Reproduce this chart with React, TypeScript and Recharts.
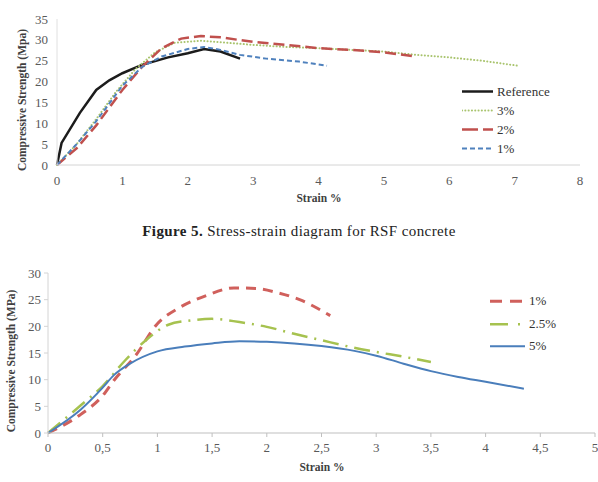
import { LineChart, Line, XAxis, YAxis, Legend } from 'recharts';

type Pt = { x: number; y: number };

const serif = '"Liberation Serif", "DejaVu Serif", Times, serif';

// ---- Figure 5: RSF concrete (strain %, MPa) ----
const rsfReference: Pt[] = [
  { x: 0, y: 0 }, { x: 0.07, y: 5.3 }, { x: 0.35, y: 12.5 }, { x: 0.6, y: 18 },
  { x: 0.8, y: 20.3 }, { x: 1, y: 22 }, { x: 1.3, y: 24 }, { x: 1.7, y: 25.8 },
  { x: 2, y: 26.8 }, { x: 2.25, y: 27.8 }, { x: 2.5, y: 27.2 }, { x: 2.8, y: 25.5 },
];
const rsf3: Pt[] = [
  { x: 0, y: 0 }, { x: 0.3, y: 5 }, { x: 0.6, y: 11 }, { x: 0.9, y: 17.5 },
  { x: 1.2, y: 23 }, { x: 1.5, y: 27 }, { x: 1.8, y: 29.3 }, { x: 2.2, y: 29.8 },
  { x: 2.6, y: 29.3 }, { x: 3, y: 28.8 }, { x: 3.5, y: 28.3 }, { x: 4, y: 28 },
  { x: 4.5, y: 27.6 }, { x: 5, y: 27.2 }, { x: 5.5, y: 26.4 }, { x: 6, y: 25.8 },
  { x: 6.5, y: 25 }, { x: 7.05, y: 23.8 },
];
const rsf2: Pt[] = [
  { x: 0, y: 0 }, { x: 0.3, y: 4 }, { x: 0.6, y: 9.5 }, { x: 1, y: 18 },
  { x: 1.3, y: 23.5 }, { x: 1.6, y: 28 }, { x: 1.9, y: 30.3 }, { x: 2.2, y: 30.9 },
  { x: 2.5, y: 30.6 }, { x: 3, y: 29.5 }, { x: 3.5, y: 28.8 }, { x: 4, y: 28 },
  { x: 4.5, y: 27.6 }, { x: 5, y: 27 }, { x: 5.45, y: 26.1 },
];
const rsf1: Pt[] = [
  { x: 0, y: 0 }, { x: 0.3, y: 5 }, { x: 0.6, y: 10.5 }, { x: 1, y: 19 },
  { x: 1.3, y: 23.5 }, { x: 1.6, y: 26 }, { x: 2, y: 27.8 }, { x: 2.25, y: 28.3 },
  { x: 2.5, y: 27.6 }, { x: 2.8, y: 26.4 }, { x: 3.2, y: 25.5 }, { x: 3.7, y: 24.8 },
  { x: 4.13, y: 23.8 },
];
const rsfXTicks = [0, 1, 2, 3, 4, 5, 6, 7, 8];
const rsfYTicks = [0, 5, 10, 15, 20, 25, 30, 35];

// ---- second figure ----
const fib1: Pt[] = [
  { x: 0, y: 0 }, { x: 0.3, y: 3.5 }, { x: 0.5, y: 7 }, { x: 0.6, y: 9.8 },
  { x: 0.8, y: 14.5 }, { x: 1, y: 20.5 }, { x: 1.2, y: 23.5 }, { x: 1.45, y: 25.8 },
  { x: 1.7, y: 27.2 }, { x: 1.9, y: 27.1 }, { x: 2.1, y: 26.3 }, { x: 2.3, y: 25 },
  { x: 2.58, y: 22 },
];
const fib25: Pt[] = [
  { x: 0, y: 0 }, { x: 0.3, y: 5.2 }, { x: 0.5, y: 8.8 }, { x: 0.7, y: 13.5 },
  { x: 0.9, y: 17.5 }, { x: 1.1, y: 20.3 }, { x: 1.3, y: 21.1 }, { x: 1.5, y: 21.4 },
  { x: 1.75, y: 20.8 }, { x: 2, y: 19.9 }, { x: 2.25, y: 18.6 }, { x: 2.5, y: 17.4 },
  { x: 2.75, y: 16.2 }, { x: 3, y: 15.2 }, { x: 3.25, y: 14.3 }, { x: 3.5, y: 13.3 },
];
const fib5: Pt[] = [
  { x: 0, y: 0 }, { x: 0.3, y: 4.4 }, { x: 0.5, y: 8.5 }, { x: 0.6, y: 10.8 },
  { x: 0.75, y: 13 }, { x: 1, y: 15.3 }, { x: 1.25, y: 16.2 }, { x: 1.5, y: 16.8 },
  { x: 1.75, y: 17.2 }, { x: 2, y: 17.1 }, { x: 2.25, y: 16.8 }, { x: 2.5, y: 16.3 },
  { x: 2.8, y: 15.4 }, { x: 3, y: 14.5 }, { x: 3.25, y: 13 }, { x: 3.5, y: 11.6 },
  { x: 3.75, y: 10.5 }, { x: 4, y: 9.6 }, { x: 4.35, y: 8.3 },
];
const fibXTicks = [0, 0.5, 1, 1.5, 2, 2.5, 3, 3.5, 4, 4.5, 5];
const fibYTicks = [0, 5, 10, 15, 20, 25, 30];

interface SeriesStyle {
  name: string;
  data: Pt[];
  color: string;
  width: number;
  dash?: string;
  cap?: 'round' | 'butt';
  legendDash?: string;
}

const rsfSeries: SeriesStyle[] = [
  { name: 'Reference', data: rsfReference, color: '#1c1c1c', width: 2.5 },
  { name: '3%', data: rsf3, color: '#a9c46e', width: 2, dash: '0.1 3.2', cap: 'round' },
  { name: '2%', data: rsf2, color: '#c0504d', width: 2.5, dash: '11 5', legendDash: '16 5 8 0' },
  { name: '1%', data: rsf1, color: '#4f81bd', width: 2, dash: '5 3' },
];

const fibSeries: SeriesStyle[] = [
  { name: '1%', data: fib1, color: '#d0605c', width: 3, dash: '10 7', legendDash: '12 8' },
  { name: '2.5%', data: fib25, color: '#a6c24f', width: 2.5, dash: '16 7 2 7', legendDash: '18 10 2 10' },
  { name: '5%', data: fib5, color: '#4a7ebb', width: 2 },
];

const tickStyle = { fontSize: 13, fill: '#595959', fontFamily: serif };
const axisTitle = { fontFamily: serif, fontWeight: 700, fontSize: 11.5, color: '#404040', whiteSpace: 'nowrap' as const };

function legendBox(items: SeriesStyle[], rowHeight: number, sampleWidth: number) {
  return () => (
    <div style={{ fontFamily: serif, fontSize: 13, color: '#333' }}>
      {items.map((s) => (
        <div key={s.name} style={{ display: 'flex', alignItems: 'center', height: rowHeight }}>
          <svg width={sampleWidth} height={rowHeight}>
            <line
              x1={0}
              x2={sampleWidth}
              y1={rowHeight / 2}
              y2={rowHeight / 2}
              stroke={s.color}
              strokeWidth={s.width}
              strokeDasharray={s.legendDash ?? s.dash}
              strokeLinecap={s.cap ?? 'butt'}
            />
          </svg>
          <span style={{ marginLeft: 4 }}>{s.name}</span>
        </div>
      ))}
    </div>
  );
}

export default function App() {
  return (
    <div style={{ position: 'absolute', left: 0, top: 0, width: 598, height: 482, background: '#fff', fontFamily: serif }}>
      {/* Figure 5 */}
      <div style={{ position: 'absolute', left: 0, top: 0 }}>
        <LineChart width={598} height={205} margin={{ top: 19, right: 18, left: 0, bottom: 0 }}>
          <XAxis
            dataKey="x"
            type="number"
            domain={[0, 8]}
            ticks={rsfXTicks}
            interval={0}
            height={40}
            tickLine={false}
            tickMargin={5}
            axisLine={{ stroke: '#d4d4d4' }}
            tick={tickStyle}
          />
          <YAxis
            type="number"
            domain={[0, 35]}
            ticks={rsfYTicks}
            interval={0}
            width={57}
            tickLine={false}
            tickMargin={3}
            axisLine={{ stroke: '#e0e0e0' }}
            tick={tickStyle}
          />
          <Legend
            layout="vertical"
            align="center"
            verticalAlign="middle"
            wrapperStyle={{ left: 462, top: 82, width: 120 }}
            content={legendBox(rsfSeries, 19, 31)}
          />
          {rsfSeries.map((s) => (
            <Line
              key={s.name}
              data={s.data}
              dataKey="y"
              name={s.name}
              type="linear"
              stroke={s.color}
              strokeWidth={s.width}
              strokeDasharray={s.dash}
              strokeLinecap={s.cap ?? 'butt'}
              dot={false}
              activeDot={false}
              isAnimationActive={false}
            />
          ))}
        </LineChart>
        <div style={{ ...axisTitle, position: 'absolute', left: 22, top: 100, transform: 'translate(-50%, -50%) rotate(-90deg)' }}>
          Compressive Strength (Mpa)
        </div>
        <div style={{ ...axisTitle, position: 'absolute', left: 319, top: 198, transform: 'translate(-50%, -50%)' }}>
          Strain %
        </div>
      </div>

      <div
        style={{
          position: 'absolute',
          left: 0,
          width: 598,
          top: 223,
          textAlign: 'center',
          fontFamily: serif,
          fontSize: 15,
          letterSpacing: 0.4,
          lineHeight: '16px',
          color: '#222',
        }}
      >
        <b>Figure 5.</b> Stress-strain diagram for RSF concrete
      </div>

      {/* second figure */}
      <div style={{ position: 'absolute', left: 0, top: 250 }}>
        <LineChart width={598} height={232} margin={{ top: 23, right: 3, left: 0, bottom: 0 }}>
          <XAxis
            dataKey="x"
            type="number"
            domain={[0, 5]}
            ticks={fibXTicks}
            interval={0}
            height={49}
            tickSize={4}
            tickMargin={6}
            tickLine={{ stroke: '#bfbfbf' }}
            axisLine={{ stroke: '#bfbfbf' }}
            tick={tickStyle}
            tickFormatter={(v: number) => String(v).replace('.', ',')}
          />
          <YAxis
            type="number"
            domain={[0, 30]}
            ticks={fibYTicks}
            interval={0}
            width={48}
            tickSize={4}
            tickMargin={3}
            tickLine={{ stroke: '#d4d4d4' }}
            axisLine={{ stroke: '#d4d4d4' }}
            tick={tickStyle}
          />
          <Legend
            layout="vertical"
            align="center"
            verticalAlign="middle"
            wrapperStyle={{ left: 490, top: 40, width: 100 }}
            content={legendBox(fibSeries, 22.5, 35)}
          />
          {fibSeries.map((s) => (
            <Line
              key={s.name}
              data={s.data}
              dataKey="y"
              name={s.name}
              type="monotone"
              stroke={s.color}
              strokeWidth={s.width}
              strokeDasharray={s.dash}
              dot={false}
              activeDot={false}
              isAnimationActive={false}
            />
          ))}
        </LineChart>
        <div style={{ ...axisTitle, position: 'absolute', left: 11, top: 111, transform: 'translate(-50%, -50%) rotate(-90deg)' }}>
          Compressive Strength (MPa)
        </div>
        <div style={{ ...axisTitle, position: 'absolute', left: 322, top: 217, transform: 'translate(-50%, -50%)' }}>
          Strain %
        </div>
      </div>
    </div>
  );
}
